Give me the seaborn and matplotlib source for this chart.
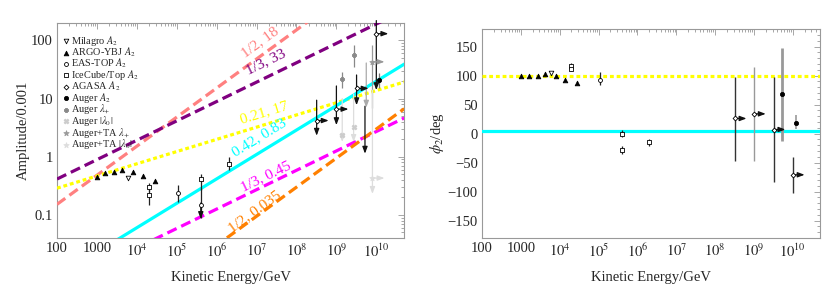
import numpy as np
import matplotlib
matplotlib.use("Agg")
import matplotlib.pyplot as plt
import seaborn as sns
from matplotlib.ticker import FixedLocator, FixedFormatter, LogLocator, NullFormatter, MultipleLocator

# axis ranges
E_MIN, E_MAX = 100, 5e10
AMP_MIN, AMP_MAX = 0.04, 200
PHI_MIN, PHI_MAX = -180, 180

x_ticks = [1e2, 1e3, 1e4, 1e5, 1e6, 1e7, 1e8, 1e9, 1e10]
x_ticklabels = ['100', '1000', '$10^{4}$', '$10^{5}$', '$10^{6}$', '$10^{7}$', '$10^{8}$', '$10^{9}$', '$10^{10}$']
amp_ticks = [0.1, 1, 10, 100]
amp_ticklabels = ['0.1', '1', '10', '100']
phi_ticks = [-150, -100, -50, 0, 50, 100, 150]
phi_ticklabels = ['\u2212150', '\u2212100', '\u221250', '0', '50', '100', '150']

# power-law model lines: slope and amplitude at 100 GeV (units of 0.001)
model_labels = ['1/2, 18', '1/3, 33', '0.21, 17', '0.42, 0.83', '1/3, 0.45', '1/2, 0.035']
model_slopes = [1/2, 1/3, 0.21, 0.42, 1/3, 1/2]
model_amp100 = [0.152, 0.414, 0.288, 0.0087, 0.00585, 0.0003]
model_colors = ['#ff8080', '#800080', '#ffff00', '#00ffff', '#ff00ff', '#ff8000']
model_styles = ['dash', 'dash', 'dot', 'solid', 'dash', 'dash']
label_E = [1.19e7, 1.68e7, 1.58e7, 1.19e7, 1.68e7, 8.9e6]
label_A = [95, 43, 5.8, 2.1, 0.45, 0.115]

# phase model lines
phase_values = [100, 4]
phase_colors = ['#ffff00', '#00ffff']
phase_styles = ['dot', 'solid']

# ---------------- amplitude data ----------------
milagro_E = [6.0e3]
milagro_A = [0.43]

argo_E = [1.0e3, 1.6e3, 2.7e3, 4.2e3, 8.0e3, 1.4e4, 2.8e4]
argo_A = [0.45, 0.52, 0.55, 0.60, 0.55, 0.47, 0.39]

eastop_E = [1.1e5, 4.0e5]
eastop_A = [0.24, 0.15]
eastop_lo = [0.17, 0.09]
eastop_hi = [0.33, 0.29]

icecube_E = [2.0e4, 2.0e4, 4.0e5, 2.0e6]
icecube_A = [0.30, 0.22, 0.42, 0.76]
icecube_lo = [0.26, 0.15, 0.27, 0.60]
icecube_hi = [0.35, 0.27, 0.50, 0.98]

agasa_E = [3.2e8, 1.0e9, 3.2e9, 1.0e10]
agasa_A = [4.2, 6.6, 15.0, 131.0]
agasa_ul_hi = [9.4, 16.5, 25.5, 220.0]
agasa_ul_lo = [2.3, 3.5, 7.7, 14.0]

auger_E = [1.15e10]
auger_A = [21.0]
auger_lo = [15.0]
auger_hi = [28.0]
auger_ul_E = [5.2e9]
auger_ul_hi = [7.4]
auger_ul_lo = [1.13]

lplus_E = [1.4e9, 2.7e9]
lplus_A = [22.0, 57.0]
lplus_lo = [15.0, 35.0]
lplus_hi = [29.0, 85.0]
lplus_ul_E = [5.6e9]
lplus_ul_hi = [41.0]
lplus_ul_lo = [7.0]

lzero_E = [1.4e9, 2.7e9]
lzero_A = [2.4, 3.3]
lzero_ul_hi = [10.0, 12.0]
lzero_ul_lo = [1.8, 1.8]

ta_plus_E = [8.0e9]
ta_plus_A = [43.0]
ta_plus_lo = [7.0]
ta_plus_hi = [85.0]

ta_zero_E = [8.0e9]
ta_zero_A = [0.43]
ta_zero_ul_hi = [14.0]
ta_zero_ul_lo = [0.23]

# ---------------- phase data ----------------
argo_phi = [99.5, 98.5, 99.5, 103, 100, 93, 87]
milagro_phi = [104]

eastop_phi_E = [1.1e5]
eastop_phi = [93]
eastop_phi_lo = [83]
eastop_phi_hi = [106]

icecube_phi_E = [2.0e4, 2.0e4, 4.0e5, 4.0e5, 2.0e6]
icecube_phi = [117, 112, 0, -28, -15]
icecube_phi_lo = [113, 107, -6, -35, -21]
icecube_phi_hi = [122, 116, 6, -21, -9]

agasa_phi_E = [3.2e8, 1.0e9, 3.2e9, 1.0e10]
agasa_phi = [26, 34, 7, -71]
agasa_phi_lo = [-47, -48, -84, -102]
agasa_phi_hi = [97, 114, 97, -41]
agasa_phi_bar = ['#333333', '#999999', '#333333', '#333333']

auger_phi_E = [5.2e9, 1.2e10]
auger_phi = [69, 19]
auger_phi_lo = [-12, 8]
auger_phi_hi = [148, 32]
auger_phi_width = [2.0, 1.2]

# ---------------- style ----------------
sns.set_style("white")
plt.rcParams['font.family'] = ['Liberation Serif', 'DejaVu Serif']
plt.rcParams['mathtext.fontset'] = 'stix'

FRAME = '#999999'
DASH = {'dash': (3.2, 1.6), 'dot': (1.2, 0.9)}
HEAD = '-|>,head_length=0.4,head_width=0.15'

fig = plt.figure(figsize=(8.3, 2.91), dpi=100)
ax1 = fig.add_axes([0.0687, 0.182, 0.4183, 0.739])
ax2 = fig.add_axes([0.5807, 0.182, 0.4073, 0.718])


def frame(ax):
    ax.set_xscale('log')
    ax.set_xlim(E_MIN, E_MAX)
    ax.xaxis.set_major_locator(FixedLocator(x_ticks))
    ax.xaxis.set_major_formatter(FixedFormatter(x_ticklabels))
    ax.xaxis.set_minor_locator(LogLocator(base=10, subs=np.arange(2, 10), numticks=20))
    ax.xaxis.set_minor_formatter(NullFormatter())
    for s in ax.spines.values():
        s.set_color(FRAME)
        s.set_linewidth(0.8)
    ax.tick_params(which='both', direction='in', top=True, right=True,
                   color=FRAME, width=0.6, labelsize=10.5, pad=3)
    ax.tick_params(which='major', length=4.5)
    ax.tick_params(which='minor', length=2.2)
    ax.set_xlabel('Kinetic Energy/GeV', fontsize=10.5, labelpad=8)


def points(ax, E, y, marker, face, edge, size, label=None, lw=0.6):
    kw = dict(marker=marker, color=face, s=size, linewidth=lw, zorder=6, ax=ax, label=label)
    if edge is not None:
        kw['edgecolor'] = edge
    sns.scatterplot(x=E, y=y, **kw)
    return ax.collections[-1]


def bars(ax, E, y, lo, hi, color='#222222', lw=0.9):
    y = np.asarray(y, float)
    err = [y - np.asarray(lo, float), np.asarray(hi, float) - y]
    ax.errorbar(E, y, yerr=err, fmt='none', ecolor=color, elinewidth=lw, capsize=0, zorder=4)


def down_arrows(ax, E, hi, lo, color='#111111', lw=0.9):
    for e, h, l in zip(E, hi, lo):
        ax.annotate('', xy=(e, l), xytext=(e, h), annotation_clip=False,
                    arrowprops=dict(arrowstyle=HEAD, color=color, lw=lw,
                                    shrinkA=0, shrinkB=0, clip_on=True),
                    zorder=4)


def right_arrows(ax, E, y, color='#111111', lw=0.9, factor=2.0):
    for e, v in zip(E, y):
        ax.annotate('', xy=(e * factor, v), xytext=(e, v),
                    arrowprops=dict(arrowstyle=HEAD, color=color, lw=lw,
                                    shrinkA=0, shrinkB=0),
                    zorder=4)


# ================= amplitude panel =================
frame(ax1)
ax1.set_yscale('log')
ax1.set_ylim(AMP_MIN, AMP_MAX)
ax1.yaxis.set_major_locator(FixedLocator(amp_ticks))
ax1.yaxis.set_major_formatter(FixedFormatter(amp_ticklabels))
ax1.yaxis.set_minor_locator(LogLocator(base=10, subs=np.arange(2, 10), numticks=20))
ax1.yaxis.set_minor_formatter(NullFormatter())
ax1.set_ylabel('Amplitude/0.001', fontsize=10.5, labelpad=1)

grid_E = np.geomspace(E_MIN, E_MAX, 60)
for slope, a0, col, sty in zip(model_slopes, model_amp100, model_colors, model_styles):
    sns.lineplot(x=grid_E, y=a0 * (grid_E / E_MIN) ** slope, color=col, lw=2.3, ax=ax1, zorder=3)
    if sty in DASH:
        ax1.lines[-1].set_dashes(DASH[sty])


def slope_angle(ax, slope):
    p1 = ax.transData.transform((1e4, 1.0))
    p2 = ax.transData.transform((1e5, 10 ** slope))
    return np.degrees(np.arctan2(p2[1] - p1[1], p2[0] - p1[0]))


for txt, slope, col, e, a in zip(model_labels, model_slopes, model_colors, label_E, label_A):
    ax1.text(e, a, txt, color=col, fontsize=11, rotation=slope_angle(ax1, slope),
             rotation_mode='anchor', ha='center', va='center', zorder=7)

# error bars and limits
bars(ax1, eastop_E, eastop_A, eastop_lo, eastop_hi)
bars(ax1, icecube_E, icecube_A, icecube_lo, icecube_hi)
down_arrows(ax1, [4.0e5], [0.16], [0.085])
bars(ax1, auger_E, auger_A, auger_lo, auger_hi, color='#777777')
bars(ax1, lplus_E, lplus_A, lplus_lo, lplus_hi, color='#888888')
bars(ax1, ta_plus_E, ta_plus_A, ta_plus_lo, ta_plus_hi, color='#999999')
down_arrows(ax1, agasa_E, agasa_ul_hi, agasa_ul_lo, color='#111111')
down_arrows(ax1, auger_ul_E, auger_ul_hi, auger_ul_lo, color='#111111')
down_arrows(ax1, lplus_ul_E, lplus_ul_hi, lplus_ul_lo, color='#aaaaaa')
down_arrows(ax1, lzero_E, lzero_ul_hi, lzero_ul_lo, color='#dddddd')
down_arrows(ax1, ta_zero_E, ta_zero_ul_hi, ta_zero_ul_lo, color='#dddddd')
right_arrows(ax1, agasa_E, agasa_A)
right_arrows(ax1, ta_plus_E, ta_plus_A, color='#999999')
right_arrows(ax1, ta_zero_E, ta_zero_A, color='#dddddd')

handles = []
handles.append(points(ax1, milagro_E, milagro_A, 'v', 'white', 'black', 11, 'Milagro $A_2$'))
handles.append(points(ax1, argo_E, argo_A, '^', 'black', 'black', 11, 'ARGO-YBJ $A_2$'))
handles.append(points(ax1, eastop_E, eastop_A, 'o', 'white', 'black', 8, 'EAS-TOP $A_2$'))
handles.append(points(ax1, icecube_E, icecube_A, 's', 'white', 'black', 7, 'IceCube/Top $A_2$'))
handles.append(points(ax1, agasa_E, agasa_A, 'D', 'white', 'black', 6, 'AGASA $A_2$'))
handles.append(points(ax1, auger_E, auger_A, 'o', 'black', 'black', 9, 'Auger $A_2$'))
handles.append(points(ax1, lplus_E, lplus_A, 'P', '#888888', '#888888', 12, 'Auger $\\lambda_{+}$'))
handles.append(points(ax1, lzero_E, lzero_A, 'X', '#cccccc', '#cccccc', 12, 'Auger $|\\lambda_0|$'))
handles.append(points(ax1, ta_plus_E, ta_plus_A, '*', '#999999', '#999999', 16, 'Auger+TA $\\lambda_{+}$'))
handles.append(points(ax1, ta_zero_E, ta_zero_A, '*', '#dddddd', '#dddddd', 16, 'Auger+TA $|\\lambda_0|$'))

ax1.legend(handles=handles, labels=[h.get_label() for h in handles], loc='upper left',
           bbox_to_anchor=(0.0, 0.975), frameon=False, fontsize=7.4, handlelength=0.7,
           handletextpad=0.15, labelspacing=-0.22, borderpad=0.3, borderaxespad=0.2,
           scatterpoints=1)

# ================= phase panel =================
frame(ax2)
ax2.set_ylim(PHI_MIN, PHI_MAX)
ax2.yaxis.set_major_locator(FixedLocator(phi_ticks))
ax2.yaxis.set_major_formatter(FixedFormatter(phi_ticklabels))
ax2.yaxis.set_minor_locator(MultipleLocator(10))
ax2.set_ylabel('$\\phi_2$/deg', fontsize=10.5, labelpad=1)

for val, col, sty in zip(phase_values, phase_colors, phase_styles):
    sns.lineplot(x=[E_MIN, E_MAX], y=[val, val], color=col, lw=2.3, ax=ax2, zorder=3)
    if sty in DASH:
        ax2.lines[-1].set_dashes(DASH[sty])

bars(ax2, eastop_phi_E, eastop_phi, eastop_phi_lo, eastop_phi_hi)
bars(ax2, icecube_phi_E, icecube_phi, icecube_phi_lo, icecube_phi_hi)
for e, v, lo, hi, c in zip(agasa_phi_E, agasa_phi, agasa_phi_lo, agasa_phi_hi, agasa_phi_bar):
    bars(ax2, [e], [v], [lo], [hi], color=c, lw=1.0)
for e, v, lo, hi, w in zip(auger_phi_E, auger_phi, auger_phi_lo, auger_phi_hi, auger_phi_width):
    bars(ax2, [e], [v], [lo], [hi], color='#999999', lw=w)
right_arrows(ax2, agasa_phi_E, agasa_phi)

points(ax2, milagro_E, milagro_phi, 'v', 'white', 'black', 11)
points(ax2, argo_E, argo_phi, '^', 'black', 'black', 11)
points(ax2, eastop_phi_E, eastop_phi, 'o', 'white', 'black', 8)
points(ax2, icecube_phi_E, icecube_phi, 's', 'white', 'black', 7)
points(ax2, agasa_phi_E, agasa_phi, 'D', 'white', 'black', 6)
points(ax2, auger_phi_E, auger_phi, 'o', 'black', 'black', 9)

fig.savefig('out.png', dpi=100)
